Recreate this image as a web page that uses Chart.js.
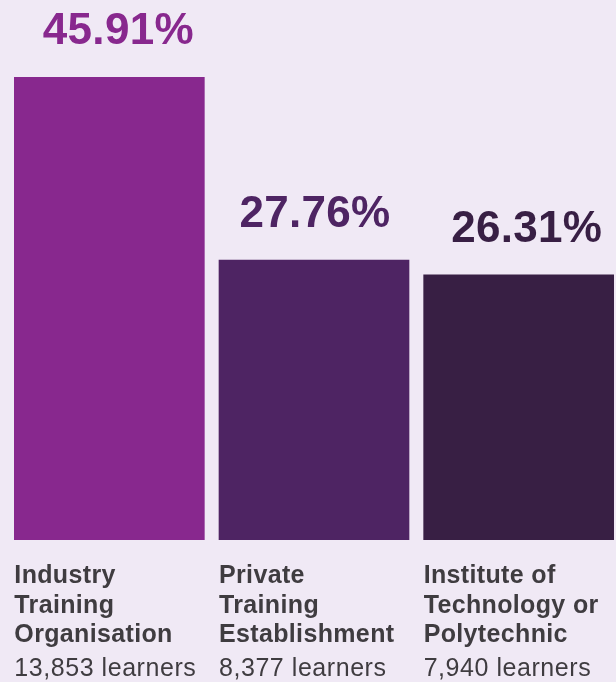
<!DOCTYPE html>
<html>
<head>
<meta charset="utf-8">
<script src="https://cdn.jsdelivr.net/npm/chart.js@4"></script>
<style>
  html, body { margin: 0; padding: 0; background: #f0e9f5; overflow: hidden; }
  #wrap { width: 621px; height: 682px; }
</style>
</head>
<body>
<div id="wrap"><canvas id="providerShare"></canvas></div>
<script>
// Learners by provider type

let providerNames = [
    ["Industry", "Training", "Organisation"],
    ["Private", "Training", "Establishment"],
    ["Institute of", "Technology or", "Polytechnic"]
];
let providerShare = [45.91, 27.76, 26.31];
let learnerCounts = ["13,853", "8,377", "7,940"];

let barColours = ["#88288e", "#4e2463", "#381f44"];
// small horizontal nudge for the big percentage labels
let valueNudge = [9, 1, 8];

let ctx = document.getElementById("providerShare").getContext("2d");

// value over each bar, provider name + learner count under it
let labelPlugin = {
    id: "providerLabels",
    afterDatasetsDraw(chart) {
        let c = chart.ctx;
        let meta = chart.getDatasetMeta(0);
        c.save();
        meta.data.forEach(function (bar, i) {
            c.fillStyle = barColours[i];
            c.font = "bold 44px 'Liberation Sans', Arial, sans-serif";
            c.letterSpacing = "0.3px";
            c.textAlign = "center";
            c.textBaseline = "alphabetic";
            c.fillText(providerShare[i].toFixed(2) + "%", bar.x + valueNudge[i], bar.y - 33);

            let left = bar.x - bar.width / 2;
            c.textAlign = "left";
            c.fillStyle = "#3f3c40";
            c.font = "bold 25px 'Liberation Sans', Arial, sans-serif";
            c.letterSpacing = "0.35px";
            providerNames[i].forEach(function (line, j) {
                c.fillText(line, left, 583 + j * 29.5);
            });
            c.font = "25px 'Liberation Sans', Arial, sans-serif";
            c.letterSpacing = "0.55px";
            c.fillText(learnerCounts[i] + " learners", left, 676);
        });
        c.restore();
    }
};

let providerChart = new Chart(ctx, {
    type: "bar",
    data: {
        labels: providerNames.map(n => n.join(" ")),
        datasets: [{
            data: providerShare,
            backgroundColor: barColours,
            barThickness: 190,
            borderWidth: 0
        }]
    },
    options: {
        responsive: true,
        maintainAspectRatio: false,
        animation: false,
        layout: { padding: { left: 7, right: 0, top: 36, bottom: 142 } },
        plugins: {
            legend: { display: false },
            tooltip: { enabled: false }
        },
        scales: {
            x: { display: false },
            y: { display: false, min: 0, max: 50 }
        }
    },
    plugins: [labelPlugin]
});
</script>
</body>
</html>
